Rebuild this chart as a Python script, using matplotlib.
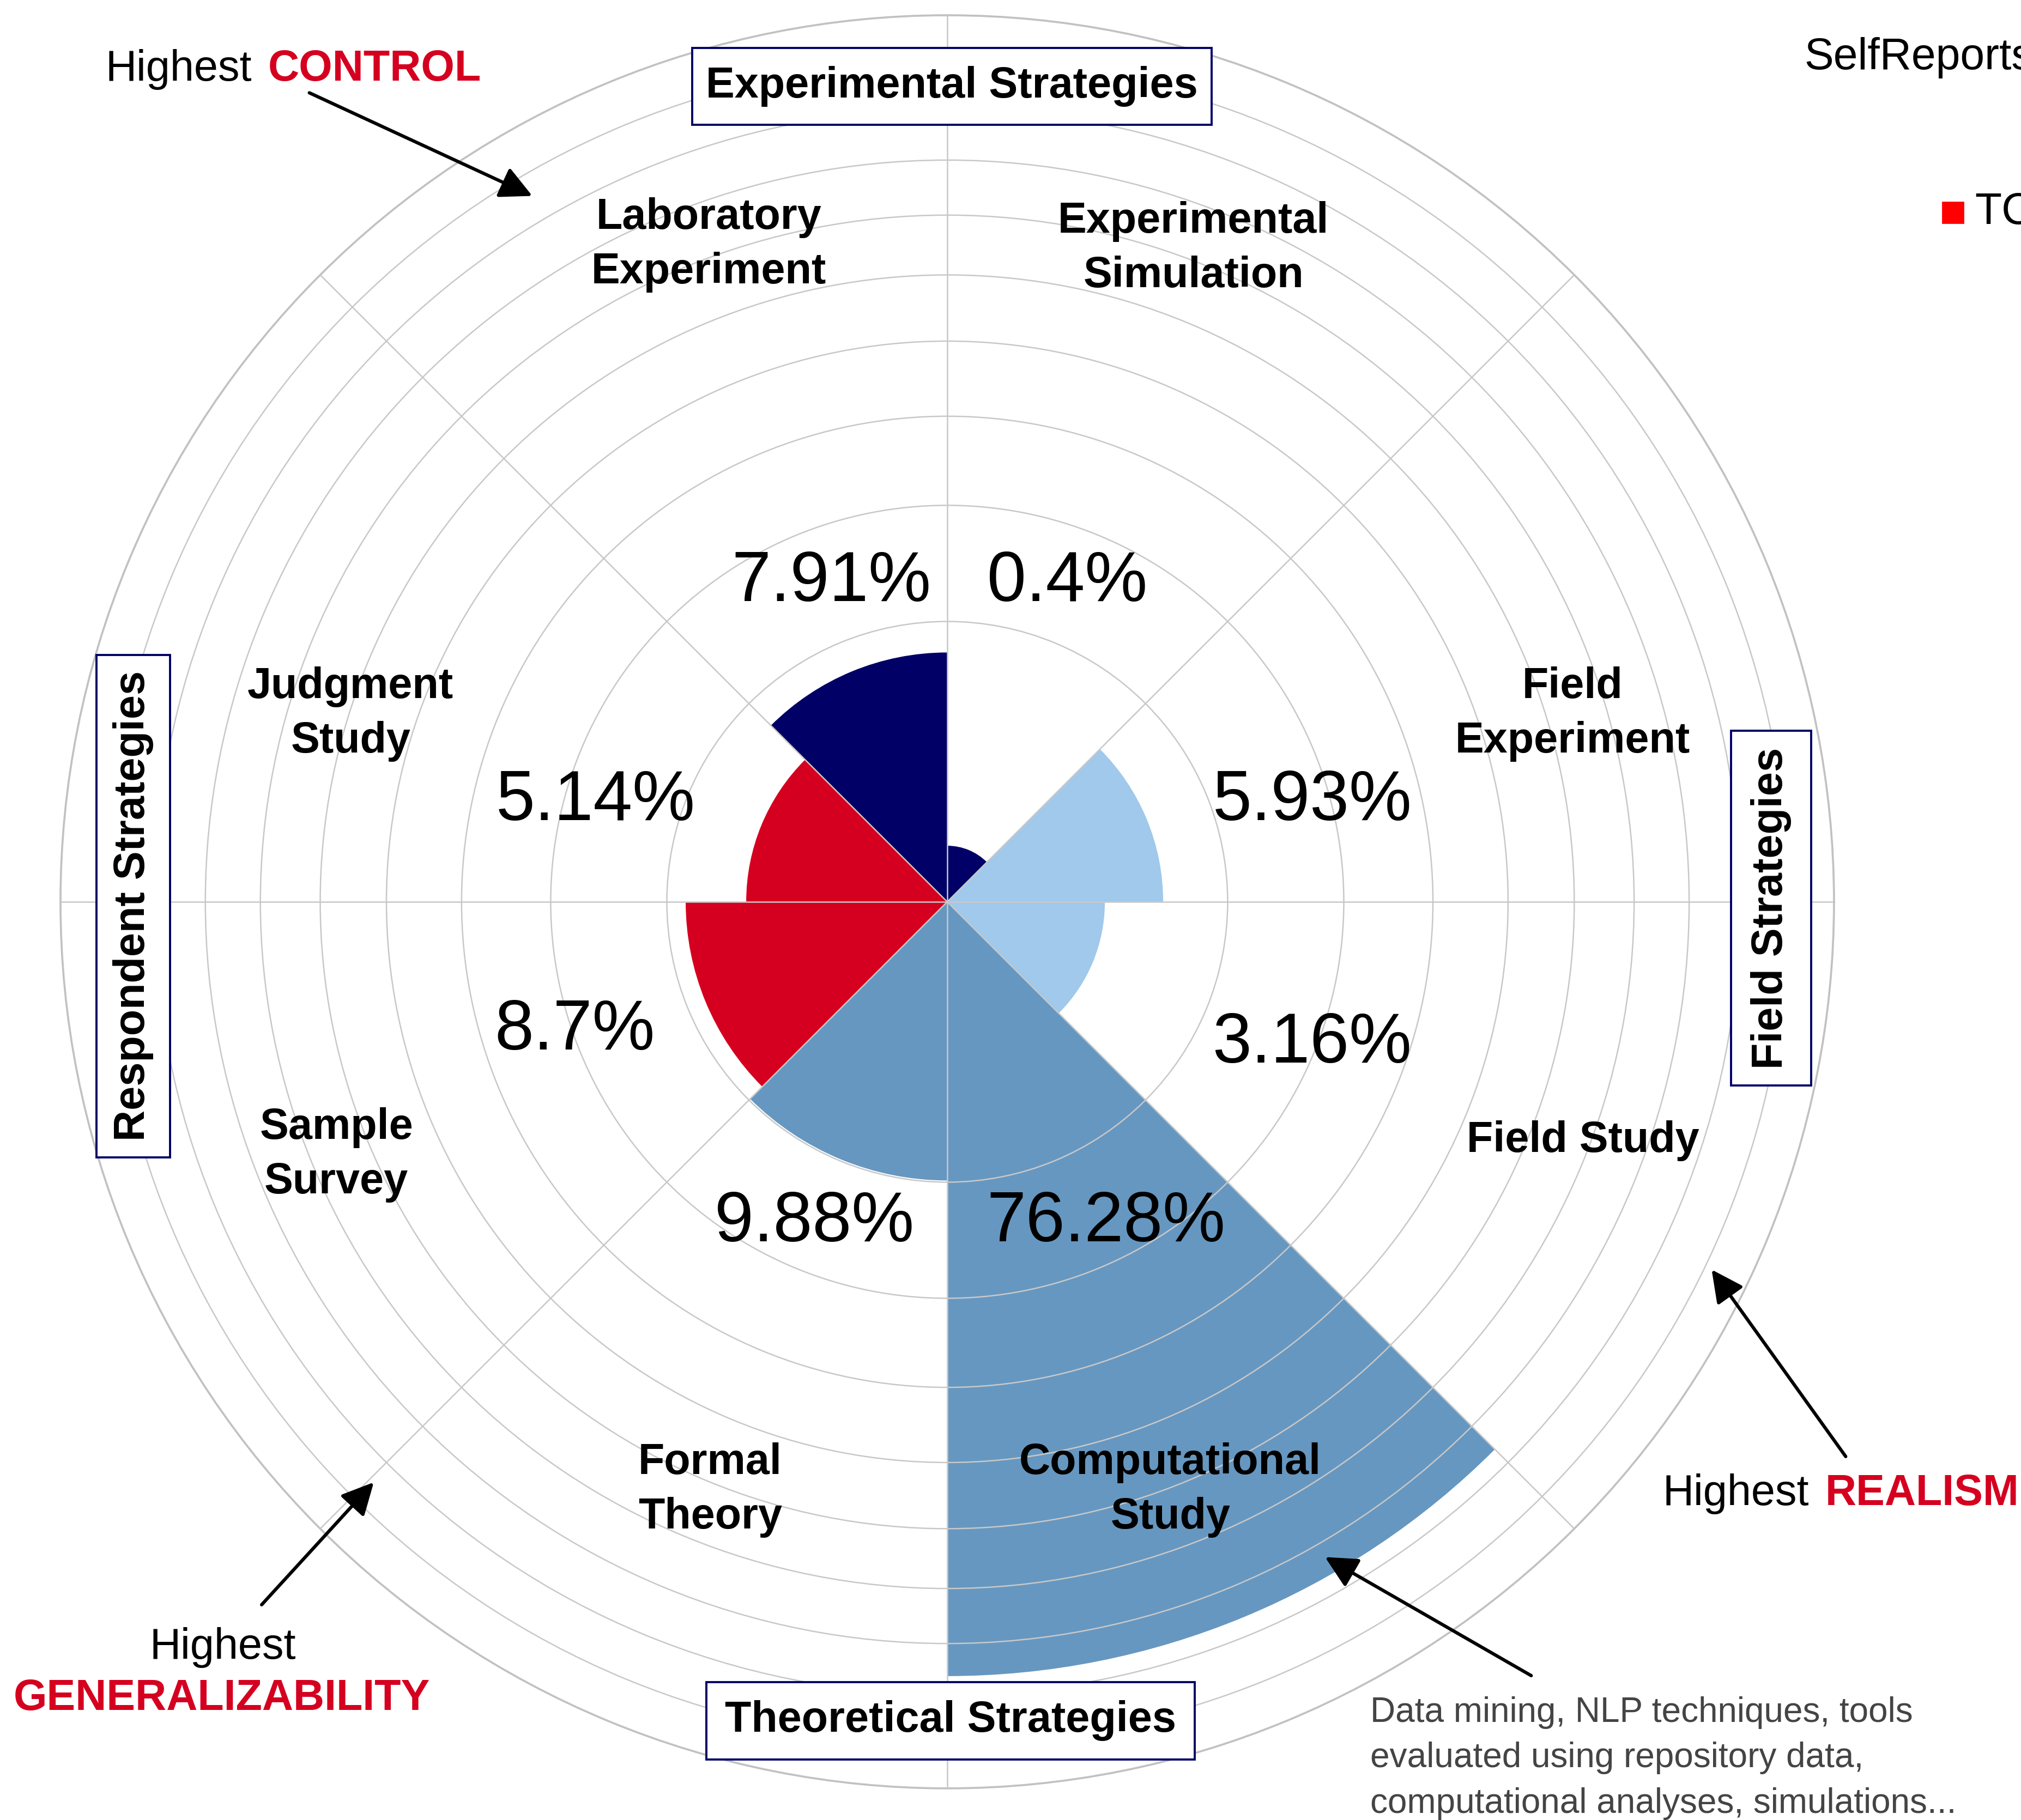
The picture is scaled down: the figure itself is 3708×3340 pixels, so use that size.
import numpy as np
import matplotlib.pyplot as plt

plt.rcParams['font.family'] = ['Liberation Sans', 'DejaVu Sans']

# data, ordered counter-clockwise from east
categories = ['Field\nExperiment', 'Experimental\nSimulation', 'Laboratory\nExperiment', 'Judgment\nStudy',
              'Sample\nSurvey', 'Formal\nTheory', 'Computational\nStudy', 'Field Study']
values = [5.93, 0.4, 7.91, 5.14, 8.7, 9.88, 76.28, 3.16]
angles_deg = [22.5, 67.5, 112.5, 157.5, 202.5, 247.5, 292.5, 337.5]
groups = ['Field Strategies', 'Experimental Strategies', 'Respondent Strategies', 'Theoretical Strategies']
grid_levels = [10, 20, 30, 40, 50, 60, 70, 80, 90, 100]

navy = '#000066'
red = '#d5001f'
light = '#a0c9eb'
steel = '#6697c0'
bar_colors = [light, navy, navy, red, red, steel, steel, light]

W, H = 1568, 1412  # layout units (reference pixels)


def fx(x):
    return x / W


def fy(y):
    return 1 - y / H


fig = plt.figure(figsize=(18.54, 16.70), dpi=200)
ax = fig.add_axes([0.0299, 0.0174, 0.8776, 0.9742], projection='polar')
ax.set_rscale('function', functions=(lambda r: np.sqrt(np.maximum(r, 0)), lambda r: np.square(r)))
ax.set_theta_zero_location('E')

ax.bar(np.deg2rad(angles_deg), values, width=np.deg2rad(45), color=bar_colors, edgecolor='none', zorder=1)
ax.set_ylim(0, 100)
ax.set_axisbelow(False)
ax.set_thetagrids(np.arange(0, 360, 45), labels=[])
ax.set_rgrids(grid_levels, labels=[])
ax.grid(True, color='#c8c8c8', lw=0.9)
ax.spines['polar'].set_color('#bdbdbd')
ax.spines['polar'].set_linewidth(1.3)

# category labels
cat_pos = [(1220, 554), (926, 193), (550, 190), (272, 554), (261, 896), (551, 1156), (908, 1156), (1228, 885)]
for name, (x, y) in zip(categories, cat_pos):
    fig.text(fx(x), fy(y), name, ha='center', va='center', fontsize=28.5, fontweight='bold', linespacing=1.42)

# percent labels
pct_pos = [(1018, 622), (828, 452), (645, 452), (462, 622), (446, 800), (632, 949), (858, 949), (1018, 810)]
for v, (x, y) in zip(values, pct_pos):
    fig.text(fx(x), fy(y), f'{v:g}%', ha='center', va='center', fontsize=46.5)

# group boxes: (left, top, right, bottom) in layout units
box_ext = [(1343, 567, 1405, 842), (537, 37, 940, 97), (75, 508, 132, 898), (548, 1305, 927, 1365)]
box_rot = [90, 0, 90, 0]
for name, (x0, y0, x1, y1), rot in zip(groups, box_ext, box_rot):
    fig.patches.append(plt.Rectangle((fx(x0), fy(y1)), (x1 - x0) / W, (y1 - y0) / H, transform=fig.transFigure,
                                     fc='white', ec=navy, lw=1.4, figure=fig, zorder=3))
    fig.text(fx((x0 + x1) / 2), fy((y0 + y1) / 2), name, ha='center', va='center', rotation=rot,
             fontsize=28.5, fontweight='bold', zorder=4)

# "Highest ..." notes
fig.text(fx(82), fy(54), 'Highest', ha='left', va='center', fontsize=28.5)
fig.text(fx(208), fy(54), 'CONTROL', ha='left', va='center', fontsize=28.5, fontweight='bold', color=red)
fig.text(fx(1290), fy(1159), 'Highest', ha='left', va='center', fontsize=28.5)
fig.text(fx(1416), fy(1159), 'REALISM', ha='left', va='center', fontsize=28.5, fontweight='bold', color=red)
fig.text(fx(173), fy(1278), 'Highest', ha='center', va='center', fontsize=28.5)
fig.text(fx(172), fy(1318), 'GENERALIZABILITY', ha='center', va='center', fontsize=28.5, fontweight='bold',
         color=red)
fig.text(fx(1063), fy(1364), 'Data mining, NLP techniques, tools\nevaluated using repository data,\n'
         'computational analyses, simulations...', ha='left', va='center', fontsize=23, color='#444444',
         linespacing=1.5)

arrows = [((240, 72), (413, 152)), ((1432, 1130), (1328, 985)), ((203, 1245), (290, 1150)),
          ((1188, 1300), (1028, 1208))]
for (x0, y0), (x1, y1) in arrows:
    ax.annotate('', xy=(fx(x1), fy(y1)), xytext=(fx(x0), fy(y0)), xycoords='figure fraction',
                textcoords='figure fraction', annotation_clip=False,
                arrowprops=dict(arrowstyle='-|>', color='black', lw=2.2, mutation_scale=45, shrinkA=0, shrinkB=0))

# legend fragment at top right (cut by the right edge, as in the source)
fig.text(fx(1400), fy(45), 'SelfReports', ha='left', va='center', fontsize=29)
fig.patches.append(plt.Rectangle((fx(1507), fy(173)), 16 / W, 16 / H, transform=fig.transFigure,
                                 color='#ff0000', figure=fig))
fig.text(fx(1532), fy(165), 'TC', ha='left', va='center', fontsize=29)

fig.savefig('out.png', dpi=200)
